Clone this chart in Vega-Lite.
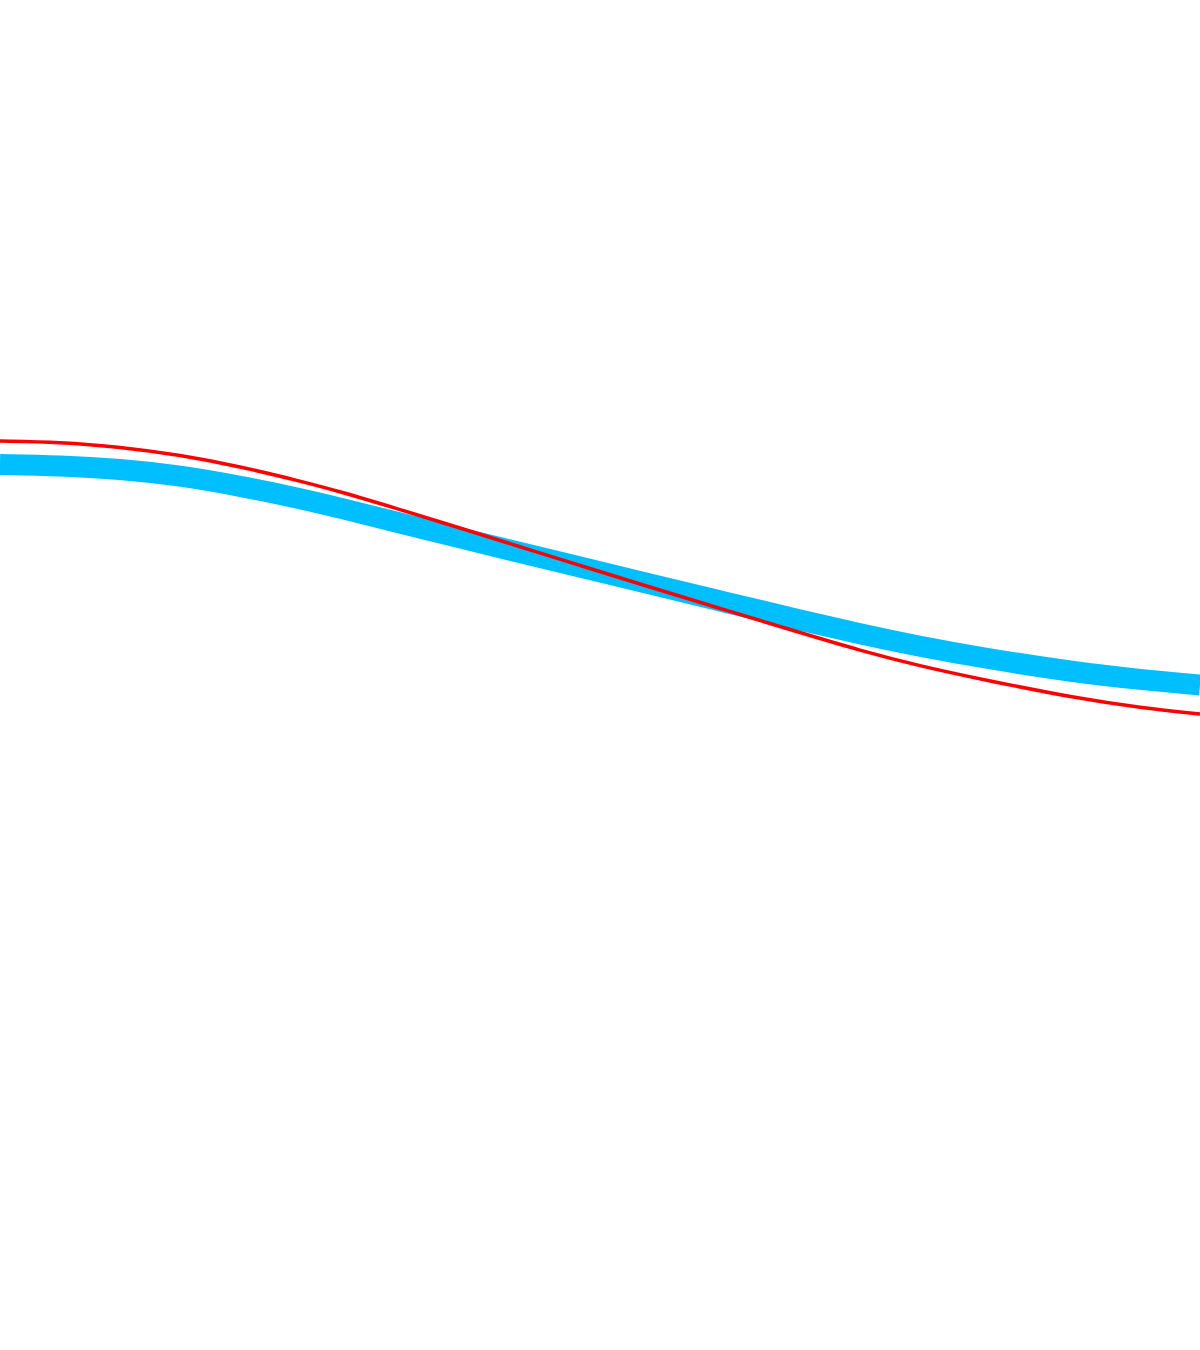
{
  "$schema": "https://vega.github.io/schema/vega-lite/v6.json",
  "width": 1200,
  "height": 1350,
  "autosize": {"type": "fit", "contains": "padding"},
  "padding": 0,
  "background": "white",
  "config": {"view": {"stroke": null}},
  "datasets": {
    "observed": [
      {"x": 0, "y": 8.855}, {"x": 0.6, "y": 8.845}, {"x": 1.2, "y": 8.81}, {"x": 1.8, "y": 8.745},
      {"x": 2.4, "y": 8.64}, {"x": 3.0, "y": 8.515}, {"x": 3.4, "y": 8.42}, {"x": 4.0, "y": 8.27},
      {"x": 4.6, "y": 8.12}, {"x": 5.2, "y": 7.975}, {"x": 5.8, "y": 7.83}, {"x": 6.4, "y": 7.685},
      {"x": 7.2, "y": 7.49}, {"x": 8.0, "y": 7.30}, {"x": 8.6, "y": 7.16}, {"x": 9.2, "y": 7.035},
      {"x": 9.8, "y": 6.925}, {"x": 10.8, "y": 6.77}, {"x": 11.4, "y": 6.705}, {"x": 12.0, "y": 6.65}
    ],
    "fitted": [
      {"x": 0, "y": 9.09}, {"x": 0.6, "y": 9.08}, {"x": 1.2, "y": 9.03}, {"x": 1.8, "y": 8.95},
      {"x": 2.4, "y": 8.835}, {"x": 3.0, "y": 8.69}, {"x": 3.4, "y": 8.585}, {"x": 4.0, "y": 8.405},
      {"x": 4.6, "y": 8.22}, {"x": 5.2, "y": 8.033}, {"x": 5.8, "y": 7.845}, {"x": 6.4, "y": 7.66},
      {"x": 7.2, "y": 7.415}, {"x": 8.0, "y": 7.175}, {"x": 8.6, "y": 6.995}, {"x": 9.2, "y": 6.84},
      {"x": 9.8, "y": 6.71}, {"x": 10.8, "y": 6.51}, {"x": 11.4, "y": 6.425}, {"x": 12.0, "y": 6.36}
    ]
  },
  "encoding": {
    "x": {"field": "x", "type": "quantitative", "scale": {"domain": [0, 12], "nice": false, "zero": false}, "axis": null},
    "y": {"field": "y", "type": "quantitative", "scale": {"domain": [0, 13.5], "nice": false, "zero": false}, "axis": null}
  },
  "layer": [
    {
      "data": {"name": "observed"},
      "mark": {"type": "line", "color": "#00BFFF", "strokeWidth": 21, "interpolate": "basis", "clip": true, "strokeCap": "butt"}
    },
    {
      "data": {"name": "fitted"},
      "mark": {"type": "line", "color": "#FF0000", "strokeWidth": 3.5, "interpolate": "basis", "clip": true}
    }
  ]
}
